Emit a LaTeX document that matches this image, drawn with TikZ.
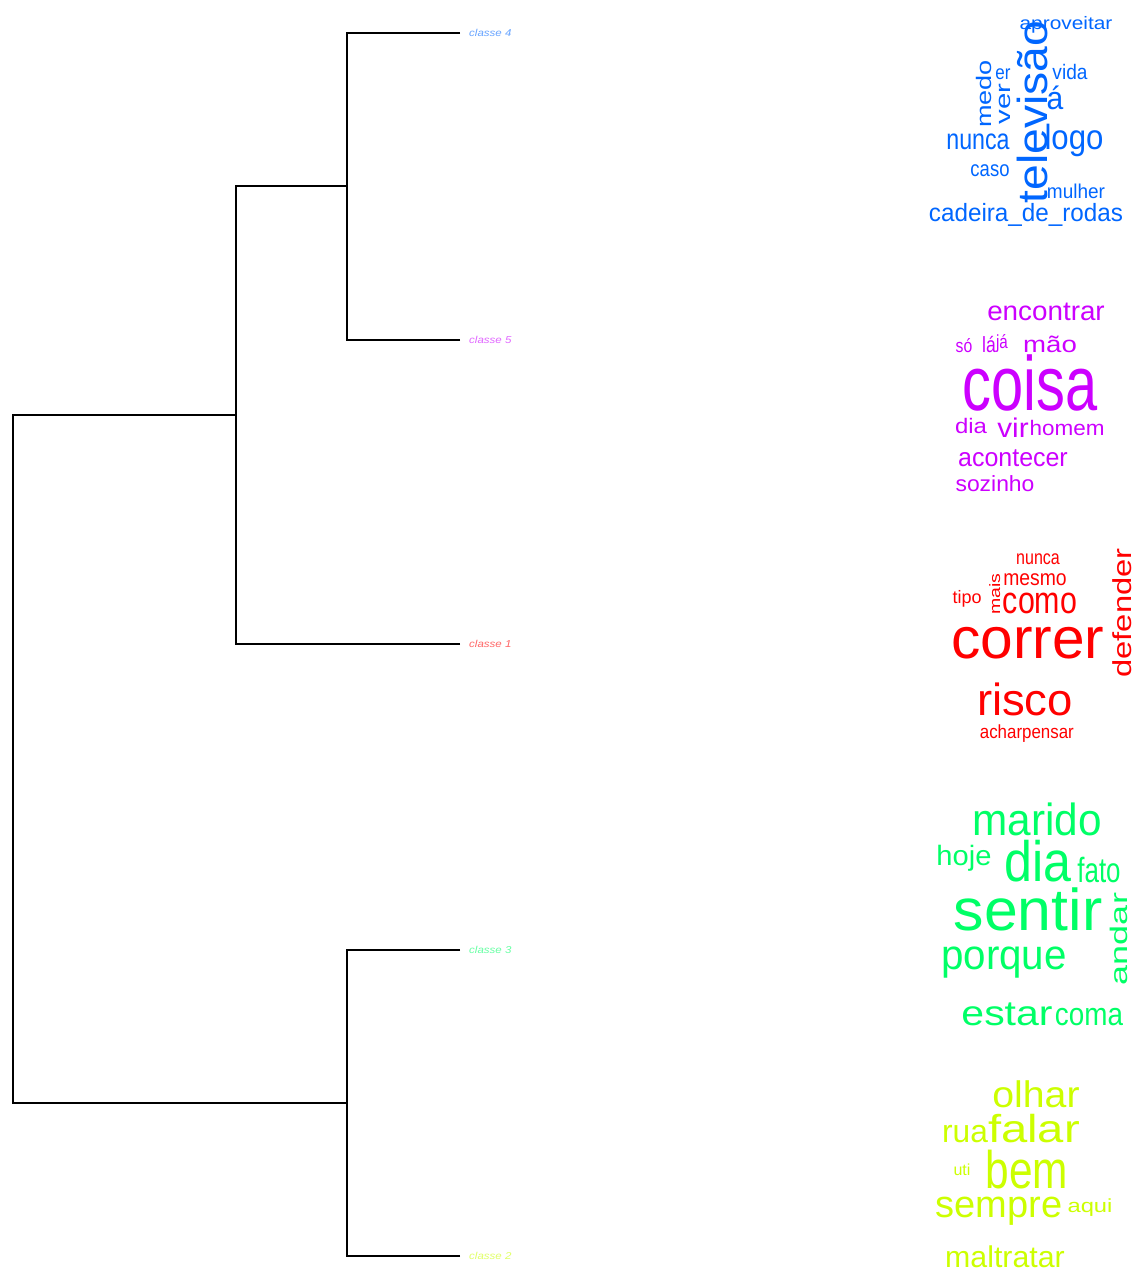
\documentclass[tikz,border=0pt]{standalone}
\usepackage{fontspec}
\setmainfont{Liberation Sans}
\usetikzlibrary{positioning}

\definecolor{cl1}{HTML}{FF0000}
\definecolor{cl2}{HTML}{CCFF00}
\definecolor{cl3}{HTML}{00FF66}
\definecolor{cl4}{HTML}{0066FF}
\definecolor{cl5}{HTML}{CC00FF}

\begin{document}
\begin{tikzpicture}[
    x=1pt, y=-1pt,
    node distance=9pt,
    link/.style={draw=black, line width=1.6pt},
    leaf/.style={font=\fontsize{10}{10}\selectfont\itshape, inner sep=0pt, xscale=1.15},
    word/.style={inner sep=0pt, anchor=base, font=\fontsize{#1}{#1}\selectfont},
    vword/.style={word=#1, rotate=90}
]
    \useasboundingbox (0,0) rectangle (1134,1276);

    % dendrogram
    \coordinate (t4) at (460,33);
    \coordinate (t5) at (460,340);
    \coordinate (t1) at (460,644);
    \coordinate (t3) at (460,950);
    \coordinate (t2) at (460,1256);
    \coordinate (m45) at (347,186);
    \coordinate (m451) at (236,415);
    \coordinate (m32) at (347,1103);
    \coordinate (root) at (13,760);

    \node (c4) [leaf, text=cl4!60, right=of t4] {classe 4};
    \node (c5) [leaf, text=cl5!60, right=of t5] {classe 5};
    \node (c1) [leaf, text=cl1!60, right=of t1] {classe 1};
    \node (c3) [leaf, text=cl3!60, right=of t3] {classe 3};
    \node (c2) [leaf, text=cl2!60, right=of t2] {classe 2};

    \draw [link] (t4) -| (m45);
    \draw [link] (t5) -| (m45);
    \draw [link] (m45) -| (m451);
    \draw [link] (t1) -| (m451);
    \draw [link] (t3) -| (m32);
    \draw [link] (t2) -| (m32);
    \draw [link] (m451) -| (root);
    \draw [link] (m32) -| (root);

    % classe 4
    \begin{scope}[cl4]
    \node (aproveitar) [word=18, xscale=1.16] at (1066,30) {aproveitar};
    \node (televisao) [vword=42, xscale=1.10] at (1047,112) {televisão};
    \node (medo) [vword=21, xscale=1.29] at (991,94) {medo};
    \node (ver) [vword=21, xscale=1.4] at (1010,104) {ver};
    \node (er) [word=20, xscale=0.85] at (1003,80) {er};
    \node (vida) [word=21, xscale=0.91] at (1070,80) {vida};
    \node (la4) [word=32, xscale=0.94] at (1055,110) {á};
    \node (logo) [word=35, xscale=0.89] at (1074,150) {logo};
    \node (nunca4) [word=29, xscale=0.80] at (978,150) {nunca};
    \node (caso) [word=22, xscale=0.84] at (990,177) {caso};
    \node (mulher) [word=20, xscale=0.95] at (1076,199) {mulher};
    \node (cadeira) [word=25, xscale=0.97] at (1026,221) {cadeira\_de\_rodas};
    \end{scope}

    % classe 5
    \begin{scope}[cl5]
    \node (encontrar) [word=27, xscale=1.03] at (1046,320) {encontrar};
    \node (so) [word=19, xscale=0.83] at (964,352) {só};
    \node (la5) [word=22, xscale=0.8] at (989,352) {lá};
    \node (ja) [word=19, xscale=0.8] at (1002,348) {já};
    \node (mao) [word=23, xscale=1.2] at (1050,352) {mão};
    \node (coisa) [word=77, xscale=0.75] at (1030,410) {coisa};
    \node (dia5) [word=21, xscale=1.14] at (971,433) {dia};
    \node (vir) [word=27, xscale=1.1] at (1013,437) {vir};
    \node (homem) [word=21, xscale=1.07] at (1067,435) {homem};
    \node (acontecer) [word=26, xscale=0.96] at (1013,466) {acontecer};
    \node (sozinho) [word=22, xscale=1.04] at (995,491) {sozinho};
    \end{scope}

    % classe 1
    \begin{scope}[cl1]
    \node (nunca1) [word=20, xscale=0.8] at (1038,564) {nunca};
    \node (mesmo) [word=22, xscale=0.88] at (1035,585) {mesmo};
    \node (mais) [vword=15, xscale=1.3] at (1000,594) {mais};
    \node (tipo) [word=18, xscale=1.0] at (967,603) {tipo};
    \node (como) [word=38, xscale=0.8] at (1040,613) {como};
    \node (correr) [word=58, xscale=1.01] at (1028,658) {correr};
    \node (defender) [vword=26, xscale=1.26] at (1131,613) {defender};
    \node (risco) [word=45, xscale=1.01] at (1025,715) {risco};
    \node (achar) [word=19, xscale=0.89] at (1001,738) {achar};
    \node (pensar) [word=19, xscale=0.89] at (1048,738) {pensar};
    \end{scope}

    % classe 3
    \begin{scope}[cl3]
    \node (marido) [word=45, xscale=0.94] at (1037,835) {marido};
    \node (hoje) [word=28, xscale=1.04] at (964,865) {hoje};
    \node (dia3) [word=57, xscale=0.88] at (1038,881) {dia};
    \node (fato) [word=35, xscale=0.74] at (1099,882) {fato};
    \node (sentir) [word=59, xscale=1.03] at (1028,930) {sentir};
    \node (andar) [vword=24, xscale=1.5] at (1127,939) {andar};
    \node (porque) [word=42, xscale=0.96] at (1004,969) {porque};
    \node (estar) [word=35, xscale=1.17] at (1007,1025) {estar};
    \node (coma) [word=32, xscale=0.87] at (1089,1025) {coma};
    \end{scope}

    % classe 2
    \begin{scope}[cl2]
    \node (olhar) [word=37, xscale=1.06] at (1036,1107) {olhar};
    \node (rua) [word=32, xscale=0.99] at (965,1142) {rua};
    \node (falar) [word=39, xscale=1.21] at (1034,1142) {falar};
    \node (uti) [word=16, xscale=1.0] at (962,1175) {uti};
    \node (bem) [word=53, xscale=0.8] at (1027,1188) {bem};
    \node (sempre) [word=38, xscale=1.0] at (999,1217) {sempre};
    \node (aqui) [word=19, xscale=1.25] at (1090,1212) {aqui};
    \node (maltratar) [word=30, xscale=1.01] at (1005,1267) {maltratar};
    \end{scope}
\end{tikzpicture}
\end{document}
